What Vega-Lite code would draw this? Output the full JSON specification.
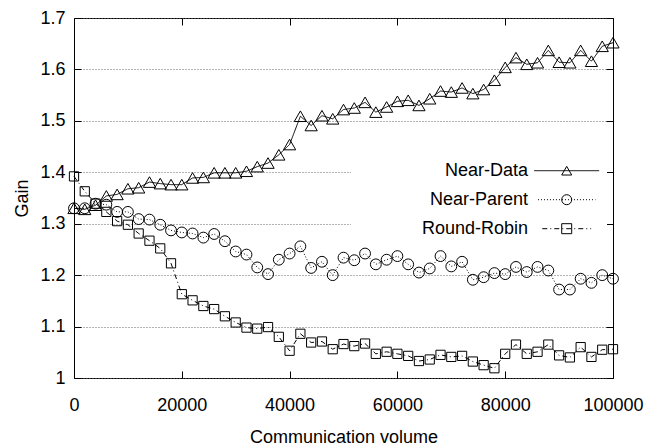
{
  "$schema": "https://vega.github.io/schema/vega-lite/v6.json",
  "width": 539,
  "height": 360,
  "autosize": {"type": "none"},
  "padding": {"left": 74, "top": 18, "right": 51, "bottom": 68},
  "background": "white",
  "config": {
    "view": {"stroke": "black", "strokeWidth": 1},
    "font": "Liberation Sans",
    "axis": {
      "labelFont": "Liberation Sans",
      "titleFont": "Liberation Sans",
      "labelFontSize": 18,
      "titleFontSize": 18,
      "titleFontWeight": "normal",
      "labelColor": "black",
      "titleColor": "black",
      "tickColor": "black",
      "tickWidth": 1,
      "domain": false,
      "tickSize": -7,
      "labelFlush": false
    },
    "legend": {"labelFont": "Liberation Sans", "labelColor": "black"}
  },
  "data": {
    "values": [
      {"v": 0, "Near-Data": 1.330, "Near-Parent": 1.330, "Round-Robin": 1.392},
      {"v": 2000, "Near-Data": 1.328, "Near-Parent": 1.330, "Round-Robin": 1.363},
      {"v": 4000, "Near-Data": 1.336, "Near-Parent": 1.339, "Round-Robin": 1.339},
      {"v": 6000, "Near-Data": 1.354, "Near-Parent": 1.337, "Round-Robin": 1.323},
      {"v": 8000, "Near-Data": 1.357, "Near-Parent": 1.323, "Round-Robin": 1.305},
      {"v": 10000, "Near-Data": 1.368, "Near-Parent": 1.323, "Round-Robin": 1.298},
      {"v": 12000, "Near-Data": 1.370, "Near-Parent": 1.309, "Round-Robin": 1.281},
      {"v": 14000, "Near-Data": 1.381, "Near-Parent": 1.308, "Round-Robin": 1.267},
      {"v": 16000, "Near-Data": 1.378, "Near-Parent": 1.298, "Round-Robin": 1.252},
      {"v": 18000, "Near-Data": 1.376, "Near-Parent": 1.287, "Round-Robin": 1.223},
      {"v": 20000, "Near-Data": 1.376, "Near-Parent": 1.283, "Round-Robin": 1.163},
      {"v": 22000, "Near-Data": 1.389, "Near-Parent": 1.281, "Round-Robin": 1.151},
      {"v": 24000, "Near-Data": 1.390, "Near-Parent": 1.273, "Round-Robin": 1.140},
      {"v": 26000, "Near-Data": 1.399, "Near-Parent": 1.280, "Round-Robin": 1.134},
      {"v": 28000, "Near-Data": 1.399, "Near-Parent": 1.266, "Round-Robin": 1.120},
      {"v": 30000, "Near-Data": 1.399, "Near-Parent": 1.246, "Round-Robin": 1.108},
      {"v": 32000, "Near-Data": 1.402, "Near-Parent": 1.240, "Round-Robin": 1.098},
      {"v": 34000, "Near-Data": 1.411, "Near-Parent": 1.215, "Round-Robin": 1.096},
      {"v": 36000, "Near-Data": 1.418, "Near-Parent": 1.202, "Round-Robin": 1.099},
      {"v": 38000, "Near-Data": 1.434, "Near-Parent": 1.230, "Round-Robin": 1.080},
      {"v": 40000, "Near-Data": 1.454, "Near-Parent": 1.242, "Round-Robin": 1.053},
      {"v": 42000, "Near-Data": 1.509, "Near-Parent": 1.256, "Round-Robin": 1.086},
      {"v": 44000, "Near-Data": 1.491, "Near-Parent": 1.214, "Round-Robin": 1.069},
      {"v": 46000, "Near-Data": 1.510, "Near-Parent": 1.226, "Round-Robin": 1.071},
      {"v": 48000, "Near-Data": 1.504, "Near-Parent": 1.200, "Round-Robin": 1.056},
      {"v": 50000, "Near-Data": 1.522, "Near-Parent": 1.234, "Round-Robin": 1.066},
      {"v": 52000, "Near-Data": 1.525, "Near-Parent": 1.229, "Round-Robin": 1.062},
      {"v": 54000, "Near-Data": 1.536, "Near-Parent": 1.242, "Round-Robin": 1.067},
      {"v": 56000, "Near-Data": 1.517, "Near-Parent": 1.221, "Round-Robin": 1.047},
      {"v": 58000, "Near-Data": 1.527, "Near-Parent": 1.230, "Round-Robin": 1.051},
      {"v": 60000, "Near-Data": 1.538, "Near-Parent": 1.237, "Round-Robin": 1.047},
      {"v": 62000, "Near-Data": 1.540, "Near-Parent": 1.221, "Round-Robin": 1.043},
      {"v": 64000, "Near-Data": 1.530, "Near-Parent": 1.205, "Round-Robin": 1.033},
      {"v": 66000, "Near-Data": 1.543, "Near-Parent": 1.213, "Round-Robin": 1.036},
      {"v": 68000, "Near-Data": 1.558, "Near-Parent": 1.237, "Round-Robin": 1.045},
      {"v": 70000, "Near-Data": 1.556, "Near-Parent": 1.217, "Round-Robin": 1.041},
      {"v": 72000, "Near-Data": 1.564, "Near-Parent": 1.226, "Round-Robin": 1.043},
      {"v": 74000, "Near-Data": 1.553, "Near-Parent": 1.191, "Round-Robin": 1.032},
      {"v": 76000, "Near-Data": 1.561, "Near-Parent": 1.196, "Round-Robin": 1.025},
      {"v": 78000, "Near-Data": 1.579, "Near-Parent": 1.204, "Round-Robin": 1.019},
      {"v": 80000, "Near-Data": 1.604, "Near-Parent": 1.202, "Round-Robin": 1.047},
      {"v": 82000, "Near-Data": 1.623, "Near-Parent": 1.216, "Round-Robin": 1.065},
      {"v": 84000, "Near-Data": 1.610, "Near-Parent": 1.206, "Round-Robin": 1.047},
      {"v": 86000, "Near-Data": 1.613, "Near-Parent": 1.216, "Round-Robin": 1.051},
      {"v": 88000, "Near-Data": 1.637, "Near-Parent": 1.209, "Round-Robin": 1.065},
      {"v": 90000, "Near-Data": 1.614, "Near-Parent": 1.172, "Round-Robin": 1.044},
      {"v": 92000, "Near-Data": 1.613, "Near-Parent": 1.172, "Round-Robin": 1.040},
      {"v": 94000, "Near-Data": 1.637, "Near-Parent": 1.193, "Round-Robin": 1.060},
      {"v": 96000, "Near-Data": 1.616, "Near-Parent": 1.185, "Round-Robin": 1.041},
      {"v": 98000, "Near-Data": 1.645, "Near-Parent": 1.200, "Round-Robin": 1.055},
      {"v": 100000, "Near-Data": 1.652, "Near-Parent": 1.193, "Round-Robin": 1.056}
    ]
  },
  "transform": [
    {"fold": ["Near-Data", "Near-Parent", "Round-Robin"], "as": ["series", "gain"]}
  ],
  "layer": [
    {
      "mark": {"type": "line", "color": "black", "strokeWidth": 1},
      "encoding": {
        "x": {
          "field": "v",
          "type": "quantitative",
          "scale": {"domain": [0, 100000], "nice": false},
          "axis": {
            "values": [0, 20000, 40000, 60000, 80000, 100000],
            "format": "d",
            "title": "Communication volume",
            "grid": false,
            "labelPadding": 25,
            "titlePadding": 14
          }
        },
        "y": {
          "field": "gain",
          "type": "quantitative",
          "scale": {"domain": [1, 1.7], "nice": false, "zero": false},
          "axis": {
            "values": [1, 1.1, 1.2, 1.3, 1.4, 1.5, 1.6, 1.7],
            "format": "~g",
            "title": "Gain",
            "grid": true,
            "gridDash": [1, 2],
            "gridColor": "#666666",
            "gridWidth": 1,
            "labelPadding": 16,
            "titlePadding": 8
          }
        },
        "strokeDash": {
          "field": "series",
          "type": "nominal",
          "scale": {
            "domain": ["Near-Data", "Near-Parent", "Round-Robin"],
            "range": [[1, 0], [1, 2], [5, 3, 1, 3]]
          },
          "legend": {
            "title": null,
            "orient": "none",
            "legendX": 277,
            "legendY": 138.7,
            "padding": 5,
            "fillColor": "white",
            "symbolType": "M-5.3,0H5.3",
            "symbolSize": 100,
            "symbolStrokeWidth": 1,
            "symbolStrokeColor": "black",
            "symbolFillColor": "transparent",
            "labelAlign": "right",
            "labelOffset": -47.7,
            "symbolOffset": 201.7,
            "labelFontSize": 18,
            "labelLimit": 300,
            "rowPadding": 11,
            "zindex": 1
          }
        }
      }
    },
    {
      "mark": {"type": "point", "filled": false, "color": "black", "strokeWidth": 1, "opacity": 1},
      "encoding": {
        "x": {
          "field": "v",
          "type": "quantitative",
          "axis": {"orient": "top", "labels": false, "title": null, "grid": false, "values": [0, 20000, 40000, 60000, 80000, 100000]}
        },
        "y": {
          "field": "gain",
          "type": "quantitative",
          "axis": {"orient": "right", "labels": false, "title": null, "grid": false, "values": [1, 1.1, 1.2, 1.3, 1.4, 1.5, 1.6, 1.7]}
        },
        "shape": {
          "field": "series",
          "type": "nominal",
          "scale": {"range": ["triangle-up", "circle", "square"]},
          "legend": {
            "title": null,
            "orient": "none",
            "legendX": 483.7,
            "legendY": 143.7,
            "padding": 0,
            "symbolSize": 100,
            "symbolStrokeColor": "black",
            "symbolFillColor": "white",
            "symbolStrokeWidth": 1,
            "labelOpacity": 0,
            "labelExpr": "' '",
            "labelFontSize": 18,
            "clipHeight": 18,
            "rowPadding": 11,
            "zindex": 2
          }
        },
        "size": {
          "field": "series",
          "type": "nominal",
          "scale": {"domain": ["Near-Data", "Near-Parent", "Round-Robin"], "range": [150, 85, 81]},
          "legend": null
        }
      }
    }
  ],
  "resolve": {"axis": {"x": "independent", "y": "independent"}}
}
